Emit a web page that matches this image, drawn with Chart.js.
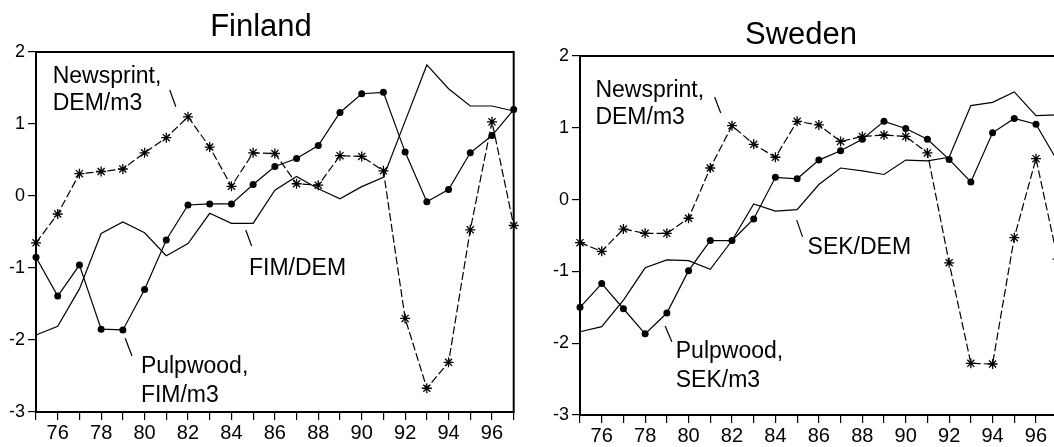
<!DOCTYPE html>
<html>
<head>
<meta charset="utf-8">
<script src="https://cdn.jsdelivr.net/npm/chart.js@4/dist/chart.umd.min.js"></script>
<style>
  html, body { margin: 0; padding: 0; background: #fff; overflow: hidden; width: 1054px; height: 447px; }
  .panel { position: absolute; top: 0; }
  canvas { display: block; }
</style>
</head>
<body>
<div class="panel" style="left:0px"><canvas id="fin" width="520" height="447"></canvas></div>
<div class="panel" style="left:544px"><canvas id="swe" width="520" height="447"></canvas></div>
<script>
// Years 1975-1997, labelled every other year
const years = [75, 76, 77, 78, 79, 80, 81, 82, 83, 84, 85, 86, 87, 88, 89, 90, 91, 92, 93, 94, 95, 96, 97];
const yearLabels = [76, 78, 80, 82, 84, 86, 88, 90, 92, 94, 96];
const valueTicks = [2, 1, 0, -1, -2, -3];

// Finland (standardised series)
const finNewsprint = [-0.65, -0.25, 0.31, 0.34, 0.375, 0.60, 0.81, 1.10, 0.68, 0.135, 0.60, 0.59, 0.17, 0.15, 0.56, 0.55, 0.35, -1.70, -2.67, -2.31, -0.47, 1.03, -0.41];
const finPulpwood = [-0.85, -1.39, -0.96, -1.85, -1.86, -1.30, -0.61, -0.125, -0.11, -0.11, 0.16, 0.41, 0.52, 0.70, 1.16, 1.42, 1.44, 0.61, -0.08, 0.09, 0.60, 0.84, 1.20];
const finFimDem = [-1.93, -1.81, -1.29, -0.52, -0.36, -0.51, -0.83, -0.66, -0.24, -0.38, -0.38, 0.08, 0.27, 0.10, -0.04, 0.13, 0.26, 1.04, 1.82, 1.49, 1.25, 1.25, 1.18];

// Sweden (standardised series)
const sweNewsprint = [-0.60, -0.72, -0.41, -0.47, -0.47, -0.26, 0.44, 1.03, 0.77, 0.59, 1.09, 1.04, 0.81, 0.88, 0.90, 0.88, 0.65, -0.88, -2.28, -2.29, -0.53, 0.57, -0.83];
const swePulpwood = [-1.50, -1.17, -1.52, -1.87, -1.58, -0.99, -0.57, -0.57, -0.27, 0.31, 0.29, 0.55, 0.68, 0.84, 1.09, 0.99, 0.84, 0.56, 0.245, 0.93, 1.13, 1.05, 0.53];
const sweSekDem = [-1.84, -1.77, -1.40, -0.95, -0.84, -0.85, -0.97, -0.57, -0.06, -0.16, -0.14, 0.21, 0.44, 0.40, 0.35, 0.55, 0.54, 0.59, 1.31, 1.355, 1.50, 1.17, 1.18];

const FONT = "'Liberation Sans', Arial, sans-serif";
Chart.defaults.font.family = FONT;
Chart.defaults.font.size = 19;
Chart.defaults.color = '#000';

function pts(vals) { return years.map((y, i) => ({ x: y, y: vals[i] })); }

// Frame, title and in-plot series labels
const decorPlugin = {
  id: 'decor',
  afterDraw(chart, args, opts) {
    const { ctx, chartArea: a } = chart;
    const xs = chart.scales.x, ys = chart.scales.y;
    ctx.save();
    ctx.strokeStyle = '#000';
    ctx.lineWidth = 2;
    ctx.strokeRect(a.left, a.top, a.right - a.left, a.bottom - a.top);

    ctx.fillStyle = '#000';
    ctx.font = '31px ' + FONT;
    ctx.textAlign = 'center';
    ctx.textBaseline = 'alphabetic';
    ctx.fillText(opts.title, opts.titleX, opts.titleY);

    ctx.font = '23px ' + FONT;
    ctx.textAlign = 'left';
    for (const n of opts.notes) {
      n.lines.forEach((t, i) => {
        ctx.fillText(t, xs.getPixelForValue(n.x), ys.getPixelForValue(n.y[i]));
      });
    }
    ctx.lineWidth = 1.2;
    for (const l of opts.leaders) {
      ctx.beginPath();
      ctx.moveTo(xs.getPixelForValue(l[0]), ys.getPixelForValue(l[1]));
      ctx.lineTo(xs.getPixelForValue(l[2]), ys.getPixelForValue(l[3]));
      ctx.stroke();
    }
    ctx.restore();
  }
};

function makeChart(id, series, deco, padTop, xAxisH) {
  const common = { borderColor: '#000', backgroundColor: '#000', borderWidth: 1.2, tension: 0, clip: false };
  return new Chart(document.getElementById(id), {
    type: 'line',
    data: {
      datasets: [
        Object.assign({}, common, { label: series[0].name, data: pts(series[0].values), borderDash: [8, 3],
          pointStyle: 'star', pointRadius: 5, pointBorderWidth: 1.3 }),
        Object.assign({}, common, { label: series[1].name, data: pts(series[1].values),
          pointStyle: 'circle', pointRadius: 3.5, pointBorderWidth: 0 }),
        Object.assign({}, common, { label: series[2].name, data: pts(series[2].values), pointRadius: 0 })
      ]
    },
    options: {
      responsive: false,
      animation: false,
      events: [],
      layout: { padding: { top: padTop, right: 4, left: 0, bottom: 0 } },
      plugins: { legend: { display: false }, tooltip: { enabled: false }, decor: deco },
      scales: {
        x: {
          type: 'linear', min: years[0], max: years[years.length - 1],
          grid: { drawOnChartArea: false, drawTicks: true, tickLength: 8, color: '#000', lineWidth: 1.2 },
          border: { display: true, color: '#000', width: 2 },
          ticks: {
            stepSize: 1, autoSkip: false, maxRotation: 0, padding: 1, color: '#000',
            font: { family: FONT, size: 20 },
            callback: v => yearLabels.includes(v) ? String(v) : ''
          },
          afterFit: s => { s.height = xAxisH; s.paddingLeft = 0; s.paddingRight = 0; }
        },
        y: {
          type: 'linear', min: valueTicks[valueTicks.length - 1], max: valueTicks[0],
          grid: { drawOnChartArea: false, drawTicks: true, tickLength: 8, color: '#000', lineWidth: 1.2 },
          border: { display: true, color: '#000', width: 2 },
          ticks: {
            stepSize: 1, padding: 3, color: '#000',
            font: { family: FONT, size: 18 },
            callback: v => valueTicks.includes(v) ? String(v) : ''
          },
          afterFit: s => { s.width = 36; s.paddingTop = 0; s.paddingBottom = 0; }
        }
      }
    },
    plugins: [decorPlugin]
  });
}

makeChart('fin', [
  { name: 'Newsprint, DEM/m3', values: finNewsprint },
  { name: 'Pulpwood, FIM/m3', values: finPulpwood },
  { name: 'FIM/DEM', values: finFimDem }
], {
  title: 'Finland', titleX: 261, titleY: 36,
  notes: [
    { x: 75.77, y: [1.574, 1.194], lines: ['Newsprint,', 'DEM/m3'] },
    { x: 84.81, y: [-1.097], lines: ['FIM/DEM'] },
    { x: 79.83, y: [-2.463, -2.857], lines: ['Pulpwood,', 'FIM/m3'] }
  ],
  leaders: [[81.16, 1.472, 81.44, 1.240], [84.66, -0.472, 84.93, -0.694], [79.11, -1.976, 79.42, -2.222]]
}, 52, 35);

makeChart('swe', [
  { name: 'Newsprint, DEM/m3', values: sweNewsprint },
  { name: 'Pulpwood, SEK/m3', values: swePulpwood },
  { name: 'SEK/DEM', values: sweSekDem }
], {
  title: 'Sweden', titleX: 257, titleY: 44,
  notes: [
    { x: 75.71, y: [1.429, 1.059], lines: ['Newsprint,', 'DEM/m3'] },
    { x: 85.48, y: [-0.760], lines: ['SEK/DEM'] },
    { x: 79.41, y: [-2.211, -2.606], lines: ['Pulpwood,', 'SEK/m3'] }
  ],
  leaders: [[81.20, 1.429, 81.48, 1.207], [84.98, -0.286, 85.25, -0.519], [78.92, -1.761, 79.23, -1.980]]
}, 56, 32);
</script>
</body>
</html>
